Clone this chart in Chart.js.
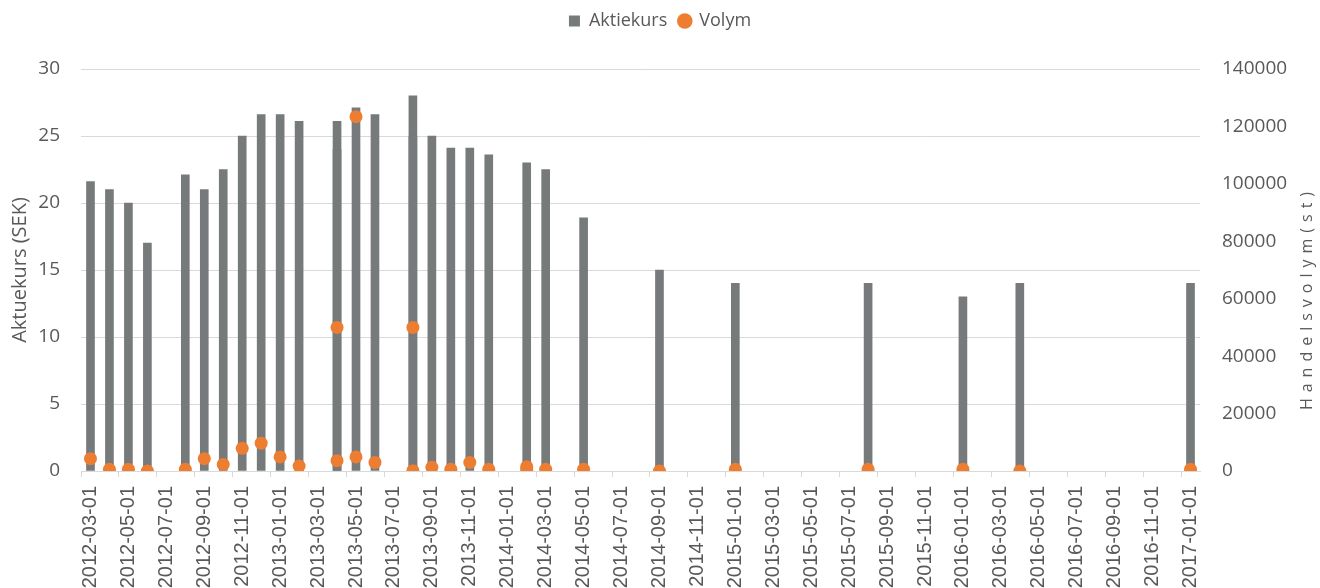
<!DOCTYPE html>
<html>
<head>
<meta charset="utf-8">
<script src="https://cdn.jsdelivr.net/npm/chart.js@4"></script>
<style>body{margin:0;background:#fff}</style>
</head>
<body>
<canvas id="myChart" width="1320" height="588"></canvas>
<script>
// one category per month, label shown every second month
var manader = [
  '2012-03-01','2012-04-01','2012-05-01','2012-06-01','2012-07-01','2012-08-01','2012-09-01','2012-10-01','2012-11-01','2012-12-01',
  '2013-01-01','2013-02-01','2013-03-01','2013-04-01','2013-05-01','2013-06-01','2013-07-01','2013-08-01','2013-09-01','2013-10-01','2013-11-01','2013-12-01',
  '2014-01-01','2014-02-01','2014-03-01','2014-04-01','2014-05-01','2014-06-01','2014-07-01','2014-08-01','2014-09-01','2014-10-01','2014-11-01','2014-12-01',
  '2015-01-01','2015-02-01','2015-03-01','2015-04-01','2015-05-01','2015-06-01','2015-07-01','2015-08-01','2015-09-01','2015-10-01','2015-11-01','2015-12-01',
  '2016-01-01','2016-02-01','2016-03-01','2016-04-01','2016-05-01','2016-06-01','2016-07-01','2016-08-01','2016-09-01','2016-10-01','2016-11-01','2016-12-01',
  '2017-01-01'
];

var kursDatum = [
  '2012-03-01','2012-04-01','2012-05-01','2012-06-01','2012-08-01','2012-09-01','2012-10-01','2012-11-01','2012-12-01',
  '2013-01-01','2013-02-01','2013-04-01','2013-04-01','2013-05-01','2013-06-01','2013-08-01','2013-08-01','2013-09-01','2013-10-01','2013-11-01','2013-12-01',
  '2014-02-01','2014-03-01','2014-05-01','2014-09-01','2015-01-01','2015-08-01','2016-01-01','2016-04-01','2017-01-01'
];
var kursVarden = [
  21.6, 21.0, 20.0, 17.0, 22.1, 21.0, 22.5, 25.0, 26.6,
  26.6, 26.1, 26.1, 24.0, 27.1, 26.6, 28.0, 25.0, 25.0, 24.1, 24.1, 23.6,
  23.0, 22.5, 18.9, 15.0, 14.0, 14.0, 13.0, 14.0, 14.0
];

var volymDatum = [
  '2012-03-01','2012-04-01','2012-05-01','2012-06-01','2012-08-01','2012-09-01','2012-10-01','2012-11-01','2012-12-01',
  '2013-01-01','2013-02-01','2013-04-01','2013-04-01','2013-05-01','2013-05-01','2013-06-01','2013-08-01','2013-08-01',
  '2013-09-01','2013-10-01','2013-11-01','2013-12-01','2014-02-01','2014-02-01','2014-03-01','2014-05-01',
  '2014-09-01','2015-01-01','2015-08-01','2016-01-01','2016-04-01','2017-01-01'
];
var volymVarden = [
  4300, 600, 600, 0, 600, 4300, 2300, 7900, 9700,
  4900, 1700, 50000, 3600, 123400, 4900, 3000, 50000, 100,
  1300, 600, 3000, 600, 1500, 600, 600, 600,
  0, 600, 600, 600, 0, 600
];

var kursPunkter = kursDatum.map(function(d, i){ return {x: d, y: kursVarden[i]}; });
var volymPunkter = volymDatum.map(function(d, i){ return {x: d, y: volymVarden[i]}; });

var textGra = '#595959';
var rutnat = '#d9d9d9';

// legend gets extra room below it, right title drawn reading upwards
var layoutPlugin = {
  id: 'layoutPlugin',
  afterInit: function(chart){
    var legend = chart.legend;
    var origFit = legend.fit;
    legend.fit = function(){
      origFit.call(this);
      this.height = 69;
    };
  },
  afterDraw: function(chart){
    var ctx = chart.ctx;
    ctx.save();
    ctx.translate(1307, 298);
    ctx.rotate(-Math.PI / 2);
    ctx.font = '16px "Open Sans"';
    ctx.fillStyle = textGra;
    ctx.textAlign = 'center';
    ctx.textBaseline = 'middle';
    ctx.letterSpacing = '6px';
    ctx.fillText('Handelsvolym(st)', 0, 0);
    ctx.restore();
  }
};

var ctx = document.getElementById('myChart');
var myChart = new Chart(ctx, {
  type: 'bar',
  data: {
    labels: manader,
    datasets: [{
      type: 'bar',
      label: 'Aktiekurs',
      data: kursPunkter,
      backgroundColor: '#767a7a',
      borderWidth: 0,
      barThickness: 8,
      pointStyle: 'rect',
      yAxisID: 'y',
      order: 1
    }, {
      type: 'line',
      label: 'Volym',
      data: volymPunkter,
      showLine: false,
      pointStyle: 'circle',
      pointRadius: 6.5,
      pointHoverRadius: 6.5,
      pointBackgroundColor: '#ED7D31',
      pointBorderWidth: 0,
      backgroundColor: '#ED7D31',
      borderColor: '#ED7D31',
      borderWidth: 0,
      yAxisID: 'y1',
      order: 0
    }]
  },
  options: {
    responsive: false,
    animation: false,
    layout: { padding: 0 },
    plugins: {
      tooltip: { enabled: false },
      legend: {
        position: 'top',
        reverse: true,
        labels: {
          usePointStyle: true,
          boxWidth: 11,
          boxHeight: 11,
          padding: 12,
          color: textGra,
          font: { family: 'Open Sans', size: 18 }
        }
      }
    },
    scales: {
      x: {
        type: 'category',
        offset: true,
        afterFit: function(scale){ scale.height = 117; },
        grid: {
          offset: true,
          drawOnChartArea: false,
          tickLength: 6,
          tickColor: function(c){ return c.index % 2 === 0 ? rutnat : 'rgba(0,0,0,0)'; }
        },
        border: { display: true, color: rutnat },
        ticks: {
          autoSkip: false,
          minRotation: 90,
          maxRotation: 90,
          padding: 9,
          color: textGra,
          font: { family: 'Liberation Sans', size: 20 },
          callback: function(val, i){ return i % 2 === 0 ? this.getLabelForValue(val) : ''; }
        }
      },
      y: {
        position: 'left',
        min: 0,
        max: 30,
        afterFit: function(scale){ scale.width = 81; },
        grid: { color: rutnat, drawTicks: false },
        border: { display: false },
        ticks: {
          stepSize: 5,
          padding: 21,
          color: textGra,
          font: { family: 'Open Sans', size: 19 }
        },
        title: {
          display: true,
          text: 'Aktuekurs (SEK)',
          color: textGra,
          padding: { top: 8, bottom: 0 },
          font: { family: 'Open Sans', size: 20 }
        }
      },
      y1: {
        position: 'right',
        min: 0,
        max: 140000,
        afterFit: function(scale){ scale.width = 120; },
        grid: { drawOnChartArea: false, drawTicks: false },
        border: { display: false },
        ticks: {
          stepSize: 20000,
          padding: 22,
          color: textGra,
          font: { family: 'Open Sans', size: 19 },
          callback: function(v){ return String(v); }
        }
      }
    }
  },
  plugins: [layoutPlugin]
});
</script>
</body>
</html>
